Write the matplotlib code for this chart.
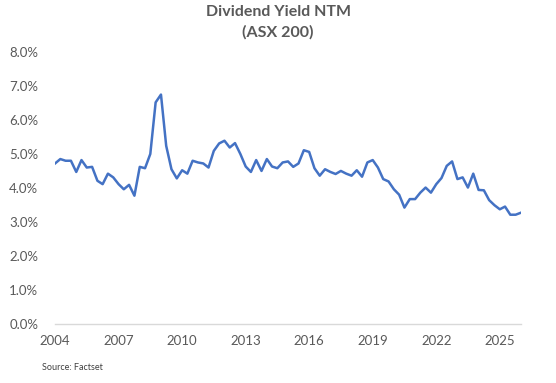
import matplotlib
matplotlib.use("Agg")
import matplotlib.pyplot as plt
import numpy as np
import pandas as pd
from matplotlib.ticker import FuncFormatter

# quarterly dividend yield (% NTM), Q1 2004 .. Q1 2026
quarters = pd.date_range("2004-01-01", periods=89, freq="QS")
yield_pct = [
    4.73, 4.86, 4.81, 4.81, 4.48, 4.83, 4.61, 4.63, 4.22, 4.12, 4.43, 4.32,
    4.12, 3.97, 4.10, 3.78, 4.63, 4.59, 5.01, 6.53, 6.76, 5.25, 4.56, 4.29,
    4.53, 4.43, 4.81, 4.76, 4.73, 4.61, 5.10, 5.32, 5.40, 5.20, 5.33, 5.01,
    4.64, 4.48, 4.83, 4.51, 4.86, 4.64, 4.59, 4.76, 4.79, 4.63, 4.73, 5.12,
    5.07, 4.59, 4.37, 4.56, 4.48, 4.42, 4.51, 4.43, 4.37, 4.53, 4.34, 4.76,
    4.83, 4.61, 4.27, 4.20, 3.97, 3.81, 3.43, 3.68, 3.68, 3.87, 4.02, 3.87,
    4.12, 4.30, 4.66, 4.79, 4.27, 4.32, 4.02, 4.43, 3.95, 3.94, 3.65, 3.50,
    3.38, 3.46, 3.22, 3.22, 3.28,
]
tick_years = [2004, 2007, 2010, 2013, 2016, 2019, 2022, 2025]
y_ticks = [0, 1, 2, 3, 4, 5, 6, 7, 8]

TXT = "#595959"
plt.rcParams["font.family"] = ["Lato", "DejaVu Sans"]

fig = plt.figure(figsize=(5.56, 3.83), dpi=100)
ax = fig.add_axes([0.099, 0.154, 0.838, 0.709])

ax.plot(quarters, yield_pct, color="#4472C4", lw=1.8, solid_joinstyle="round")

ax.set_ylim(0, 8)
ax.set_yticks(y_ticks)
ax.yaxis.set_major_formatter(FuncFormatter(lambda v, _: f"{v:.1f}%"))
ax.set_xlim(quarters[0], quarters[-1])
ax.set_xticks([pd.Timestamp(f"{y}-01-01") for y in tick_years])
ax.set_xticklabels([str(y) for y in tick_years])

for s in ["top", "right", "left"]:
    ax.spines[s].set_visible(False)
ax.spines["bottom"].set_color("#D9D9D9")
ax.spines["bottom"].set_linewidth(1.0)
ax.tick_params(axis="both", length=0, labelsize=9.5, labelcolor=TXT)
ax.tick_params(axis="x", pad=8)
ax.tick_params(axis="y", pad=12)

fig.text(0.5, 0.968, "Dividend Yield NTM", ha="center", va="center",
         fontsize=11.5, weight="bold", color=TXT)
fig.text(0.5, 0.916, "(ASX 200)", ha="center", va="center",
         fontsize=11.5, weight="bold", color=TXT)
fig.text(0.075, 0.04, "Source: Factset", ha="left", va="center",
         fontsize=6.5, color="#404040")

fig.savefig("out.png", dpi=100)
